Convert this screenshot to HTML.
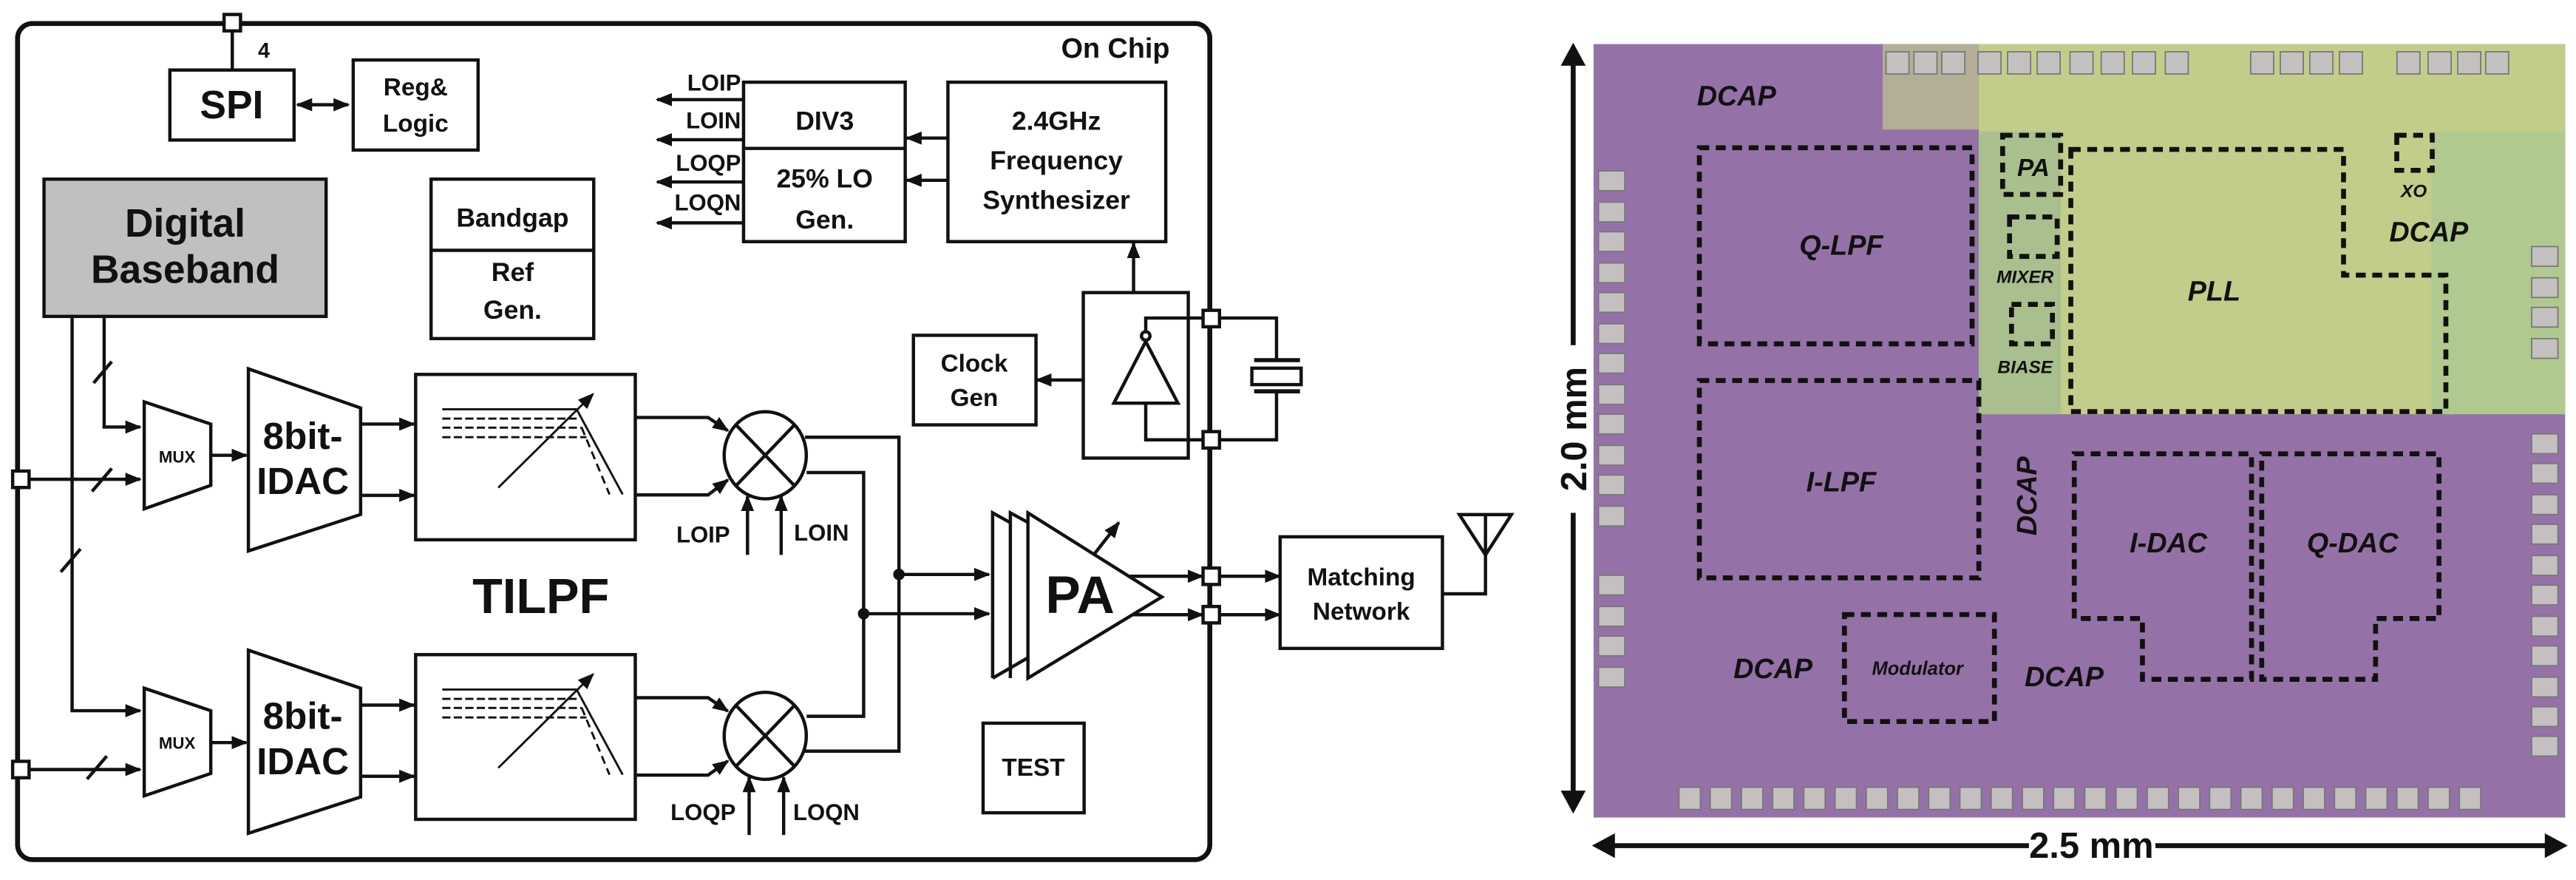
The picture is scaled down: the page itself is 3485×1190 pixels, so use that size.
<!DOCTYPE html>
<html><head><meta charset="utf-8"><style>
html,body{margin:0;padding:0;background:#fff;}
svg{display:block;}
text{font-family:"Liberation Sans Narrow","Liberation Sans",sans-serif;font-weight:bold;fill:#111;}
.it{font-family:"Liberation Sans",sans-serif;font-style:italic;font-weight:bold;}
</style></head><body>
<svg width="3485" height="1190" viewBox="0 0 1568 535.4" xmlns="http://www.w3.org/2000/svg">
<defs>
<marker id="a" markerUnits="userSpaceOnUse" markerWidth="10" markerHeight="8" refX="9" refY="4" orient="auto"><path d="M0,0 L10,4 L0,8 Z" fill="#111"/></marker>
<marker id="as" markerUnits="userSpaceOnUse" markerWidth="10" markerHeight="8" refX="1" refY="4" orient="auto"><path d="M10,0 L0,4 L10,8 Z" fill="#111"/></marker>
</defs>
<g fill="none" stroke="#111" stroke-width="2">
<!-- chip border -->
<rect x="10.7" y="14.3" width="725.7" height="508.7" rx="9" stroke-width="3"/>
<!-- top pad -->
<line x1="141.4" y1="19" x2="141.4" y2="42.6"/>
<rect x="136.4" y="8.8" width="10" height="10" fill="#fff"/>
<!-- SPI -->
<rect x="103.4" y="42.6" width="75.6" height="42.6"/>
<line x1="181" y1="63.7" x2="212" y2="63.7" marker-start="url(#as)" marker-end="url(#a)"/>
<rect x="215" y="36.5" width="76" height="54.8"/>
<!-- Digital baseband -->
<rect x="26.8" y="109" width="171.7" height="83.5" fill="#c0c0c0"/>
<!-- Bandgap -->
<rect x="262.4" y="109" width="99" height="97"/>
<line x1="262.4" y1="152.3" x2="361.4" y2="152.3"/>
<!-- DIV3 -->
<rect x="452.6" y="50" width="98.4" height="97"/>
<line x1="452.6" y1="90.3" x2="551" y2="90.3"/>
<line x1="452.6" y1="60.6" x2="400" y2="60.6" marker-end="url(#a)"/>
<line x1="452.6" y1="85" x2="400" y2="85" marker-end="url(#a)"/>
<line x1="452.6" y1="110.7" x2="400" y2="110.7" marker-end="url(#a)"/>
<line x1="452.6" y1="135.6" x2="400" y2="135.6" marker-end="url(#a)"/>
<!-- Synth -->
<rect x="577" y="50" width="132.6" height="97"/>
<line x1="577" y1="84" x2="552" y2="84" marker-end="url(#a)"/>
<line x1="577" y1="109.7" x2="552" y2="109.7" marker-end="url(#a)"/>
<line x1="690" y1="178" x2="690" y2="148" marker-end="url(#a)"/>
<!-- XO -->
<rect x="659.4" y="178" width="63.9" height="100.7"/>
<path d="M678,245.3 L717,245.3 L697.4,207.8 Z"/>
<circle cx="697.4" cy="204.4" r="2.6"/>
<polyline points="697.4,201.8 697.4,193.5 777,193.5 777,219"/>
<polyline points="697.4,245.3 697.4,267.6 777,267.6 777,238"/>
<line x1="763.4" y1="219.1" x2="791.3" y2="219.1" stroke-width="2.5"/>
<rect x="762" y="224" width="30" height="10"/>
<line x1="763.4" y1="238.1" x2="791.3" y2="238.1" stroke-width="2.5"/>
<rect x="732.3" y="188.8" width="10" height="10" fill="#fff"/>
<rect x="732.3" y="262.6" width="10" height="10" fill="#fff"/>
<!-- Clock Gen -->
<rect x="556" y="204" width="74.6" height="54.5"/>
<line x1="659.4" y1="231.2" x2="631" y2="231.2" marker-end="url(#a)"/>
<!-- DB lines -->
<polyline points="43.9,192.5 43.9,432.4 85.3,432.4" marker-end="url(#a)"/>
<polyline points="63.4,192.5 63.4,259.8 85.3,259.8" marker-end="url(#a)"/>
<line x1="57" y1="233" x2="68" y2="220"/>
<line x1="37" y1="348" x2="49" y2="334"/>
<line x1="56" y1="299" x2="68" y2="285"/>
<line x1="53" y1="474" x2="65" y2="460"/>
<line x1="12.7" y1="291.6" x2="85.3" y2="291.6" marker-end="url(#a)"/>
<line x1="12.7" y1="468.2" x2="85.3" y2="468.2" marker-end="url(#a)"/>
<rect x="7.7" y="286.6" width="10" height="10" fill="#fff"/>
<rect x="7.7" y="463.2" width="10" height="10" fill="#fff"/>
<!-- MUX -->
<path d="M87.8,244.5 L128.3,258 L128.3,295.3 L87.8,309.6 Z"/>
<path d="M87.8,418.7 L128.3,432.4 L128.3,470.6 L87.8,484.2 Z"/>
<line x1="128.3" y1="277" x2="150" y2="277" marker-end="url(#a)"/>
<line x1="128.3" y1="451.8" x2="150" y2="451.8" marker-end="url(#a)"/>
<!-- IDAC -->
<path d="M151.2,224.4 L219.5,248.2 L219.5,313 L151.2,335.2 Z"/>
<path d="M151.2,395.6 L219.5,418.7 L219.5,484.9 L151.2,507 Z"/>
<line x1="219.5" y1="258" x2="252" y2="258" marker-end="url(#a)"/>
<line x1="219.5" y1="301.4" x2="252" y2="301.4" marker-end="url(#a)"/>
<line x1="219.5" y1="429" x2="252" y2="429" marker-end="url(#a)"/>
<line x1="219.5" y1="472.3" x2="252" y2="472.3" marker-end="url(#a)"/>
<!-- LPF -->
<rect x="253" y="227.8" width="133.7" height="100.6"/>
<rect x="253" y="398.3" width="133.7" height="100.2"/>
<g id="flt" stroke-width="1.3">
<line x1="269.2" y1="249" x2="351" y2="249"/>
<line x1="269.2" y1="254.7" x2="351" y2="254.7" stroke-dasharray="5,2"/>
<line x1="269.2" y1="260.2" x2="354" y2="260.2" stroke-dasharray="5,2"/>
<line x1="269.2" y1="266" x2="357" y2="266" stroke-dasharray="5,2"/>
<line x1="351" y1="249" x2="379" y2="300.8"/>
<line x1="354" y1="260" x2="371" y2="300.8" stroke-dasharray="5,3"/>
<line x1="303.3" y1="296.7" x2="361" y2="239.7" marker-end="url(#a)"/>
</g>
<use href="#flt" transform="translate(0,170.5)"/>
<!-- LPF to mixers -->
<polyline points="386.7,254 431,254 443,262" marker-end="url(#a)"/>
<polyline points="386.7,301.1 431,301.1 443,292" marker-end="url(#a)"/>
<polyline points="386.7,424.5 431,424.5 443,432.7" marker-end="url(#a)"/>
<polyline points="386.7,471.6 431,471.6 443,463" marker-end="url(#a)"/>
<!-- Mixers -->
<ellipse cx="465.8" cy="277" rx="25" ry="26.5"/>
<line x1="448" y1="258.5" x2="483.6" y2="295.5"/><line x1="483.6" y1="258.5" x2="448" y2="295.5"/>
<ellipse cx="465.8" cy="447.7" rx="25" ry="26.5"/>
<line x1="448" y1="429.2" x2="483.6" y2="466.2"/><line x1="483.6" y1="429.2" x2="448" y2="466.2"/>
<line x1="455" y1="337.6" x2="455" y2="302" marker-end="url(#a)"/>
<line x1="475.5" y1="337.6" x2="475.5" y2="302" marker-end="url(#a)"/>
<line x1="456" y1="508" x2="456" y2="473" marker-end="url(#a)"/>
<line x1="477" y1="508" x2="477" y2="473" marker-end="url(#a)"/>
<!-- mixer outputs -->
<polyline points="490,266 547.2,266 547.2,457 490,457"/>
<polyline points="491,287.5 525.7,287.5 525.7,435.8 491,435.8"/>
<circle cx="547.2" cy="349.5" r="2.5" fill="#111"/>
<circle cx="525.7" cy="373.4" r="2.5" fill="#111"/>
<line x1="547.2" y1="349.5" x2="602" y2="349.5" marker-end="url(#a)"/>
<line x1="525.7" y1="373.4" x2="602" y2="373.4" marker-end="url(#a)"/>
<!-- PA -->
<path d="M604.2,412.6 L604.2,312 L615,318"/>
<path d="M615,412.6 L615,312 L626,318"/>
<path d="M604.2,412.6 L626,400"/>
<path d="M625.7,312 L707.2,363.2 L625.7,412.6 Z" fill="#fff"/>
<line x1="665.7" y1="337.6" x2="681" y2="318" marker-end="url(#a)"/>
<line x1="688" y1="350.6" x2="732" y2="350.6" marker-end="url(#a)"/>
<line x1="690" y1="374" x2="732" y2="374" marker-end="url(#a)"/>
<rect x="732.3" y="345.6" width="10" height="10" fill="#fff"/>
<rect x="732.3" y="369" width="10" height="10" fill="#fff"/>
<line x1="742.3" y1="350.6" x2="779" y2="350.6" marker-end="url(#a)"/>
<line x1="742.3" y1="374" x2="779" y2="374" marker-end="url(#a)"/>
<rect x="779.2" y="326.6" width="98.8" height="67.9"/>
<polyline points="878,361.3 904.2,361.3 904.2,313.1"/>
<path d="M888.3,313.1 L920,313.1 L904.2,337.6 Z"/>
<!-- TEST -->
<rect x="598.4" y="440" width="61.5" height="54.5"/>
</g>
<!-- texts left -->
<text x="157" y="35" font-size="13">4</text>
<text x="141" y="72" font-size="24" text-anchor="middle">SPI</text>
<text x="253" y="58" font-size="15" text-anchor="middle" font-weight="normal">Reg&amp;</text>
<text x="253" y="80" font-size="15" text-anchor="middle" font-weight="normal">Logic</text>
<text x="712" y="35" font-size="17" text-anchor="end">On Chip</text>
<text x="112.7" y="144" font-size="24" text-anchor="middle">Digital</text>
<text x="112.7" y="172" font-size="24" text-anchor="middle">Baseband</text>
<text x="312" y="138" font-size="16" text-anchor="middle">Bandgap</text>
<text x="312" y="171" font-size="16" text-anchor="middle">Ref</text>
<text x="312" y="194" font-size="16" text-anchor="middle">Gen.</text>
<text x="502" y="79" font-size="16" text-anchor="middle">DIV3</text>
<text x="502" y="114" font-size="16" text-anchor="middle">25% LO</text>
<text x="502" y="139" font-size="16" text-anchor="middle">Gen.</text>
<text x="451" y="55" font-size="14" text-anchor="end" font-weight="normal">LOIP</text>
<text x="451" y="78" font-size="14" text-anchor="end" font-weight="normal">LOIN</text>
<text x="451" y="104" font-size="14" text-anchor="end" font-weight="normal">LOQP</text>
<text x="451" y="128" font-size="14" text-anchor="end" font-weight="normal">LOQN</text>
<text x="643" y="79" font-size="16" text-anchor="middle">2.4GHz</text>
<text x="643" y="103" font-size="16" text-anchor="middle">Frequency</text>
<text x="643" y="127" font-size="16" text-anchor="middle">Synthesizer</text>
<text x="593" y="226" font-size="15" text-anchor="middle" font-weight="normal">Clock</text>
<text x="593" y="247" font-size="15" text-anchor="middle" font-weight="normal">Gen</text>
<text x="107.8" y="281.5" font-size="10" text-anchor="middle" font-weight="normal">MUX</text>
<text x="107.8" y="455.5" font-size="10" text-anchor="middle" font-weight="normal">MUX</text>
<text x="184.3" y="273" font-size="23" text-anchor="middle">8bit-</text>
<text x="184.3" y="300.5" font-size="23" text-anchor="middle">IDAC</text>
<text x="184.3" y="443.5" font-size="23" text-anchor="middle">8bit-</text>
<text x="184.3" y="471" font-size="23" text-anchor="middle">IDAC</text>
<text x="329.2" y="373" font-size="30" text-anchor="middle">TILPF</text>
<text x="428" y="330" font-size="14" text-anchor="middle" font-weight="normal">LOIP</text>
<text x="500" y="329" font-size="14" text-anchor="middle" font-weight="normal">LOIN</text>
<text x="428" y="499" font-size="14" text-anchor="middle" font-weight="normal">LOQP</text>
<text x="503" y="499" font-size="14" text-anchor="middle" font-weight="normal">LOQN</text>
<text x="657.4" y="373" font-size="32" text-anchor="middle">PA</text>
<text x="828.6" y="356" font-size="15" text-anchor="middle" font-weight="normal">Matching</text>
<text x="828.6" y="377" font-size="15" text-anchor="middle" font-weight="normal">Network</text>
<text x="629" y="472" font-size="15" text-anchor="middle" font-weight="normal">TEST</text>

<!-- die photo -->
<rect x="970" y="26.8" width="591.4" height="470.6" fill="#9472a8"/>
<rect x="1204.5" y="26.8" width="356.9" height="225.2" fill="#c3cd8a"/>
<rect x="1146" y="26.8" width="58.5" height="52" fill="#b4ae96"/>
<rect x="1480" y="80" width="81.4" height="172" fill="#a8c890" opacity="0.7"/>
<rect x="1204.5" y="80" width="50" height="172" fill="#a9c08e"/>
<g fill="#c4c0c0" stroke="#777" stroke-width="0.8">
<g id="tp"><rect x="1148" y="31.5" width="14" height="13.5"/></g>
<use href="#tp" x="17"/><use href="#tp" x="34"/><use href="#tp" x="56"/><use href="#tp" x="74"/><use href="#tp" x="92"/><use href="#tp" x="112"/><use href="#tp" x="131"/><use href="#tp" x="150"/><use href="#tp" x="170"/><use href="#tp" x="222"/><use href="#tp" x="240"/><use href="#tp" x="258"/><use href="#tp" x="276"/><use href="#tp" x="311"/><use href="#tp" x="330"/><use href="#tp" x="348"/><use href="#tp" x="365"/>
<g id="lp"><rect x="973" y="104" width="16" height="12"/></g>
<use href="#lp" y="19"/><use href="#lp" y="37"/><use href="#lp" y="56"/><use href="#lp" y="74"/><use href="#lp" y="93"/><use href="#lp" y="111"/><use href="#lp" y="130"/><use href="#lp" y="148"/><use href="#lp" y="167"/><use href="#lp" y="185"/><use href="#lp" y="204"/><use href="#lp" y="246"/><use href="#lp" y="265"/><use href="#lp" y="283"/><use href="#lp" y="302"/>
<g id="rp"><rect x="1541" y="150" width="16" height="12"/></g>
<use href="#rp" y="19"/><use href="#rp" y="37"/><use href="#rp" y="56"/><use href="#rp" y="114"/><use href="#rp" y="132"/><use href="#rp" y="151"/><use href="#rp" y="169"/><use href="#rp" y="188"/><use href="#rp" y="206"/><use href="#rp" y="225"/><use href="#rp" y="243"/><use href="#rp" y="262"/><use href="#rp" y="280"/><use href="#rp" y="298"/>
<g id="bp"><rect x="1022" y="479" width="13" height="13.5"/></g>
<use href="#bp" x="19"/><use href="#bp" x="38"/><use href="#bp" x="57"/><use href="#bp" x="76"/><use href="#bp" x="95"/><use href="#bp" x="114"/><use href="#bp" x="133"/><use href="#bp" x="152"/><use href="#bp" x="171"/><use href="#bp" x="190"/><use href="#bp" x="209"/><use href="#bp" x="228"/><use href="#bp" x="247"/><use href="#bp" x="266"/><use href="#bp" x="285"/><use href="#bp" x="304"/><use href="#bp" x="323"/><use href="#bp" x="342"/><use href="#bp" x="361"/><use href="#bp" x="380"/><use href="#bp" x="399"/><use href="#bp" x="418"/><use href="#bp" x="437"/><use href="#bp" x="456"/><use href="#bp" x="475"/>
</g>
<g fill="none" stroke="#111" stroke-width="3" stroke-dasharray="6,4">
<rect x="1034.4" y="89.9" width="166" height="119.3"/>
<rect x="1034.4" y="231.5" width="170.1" height="120.1"/>
<rect x="1219" y="82.3" width="35.3" height="36"/>
<rect x="1223.2" y="132" width="29" height="24"/>
<rect x="1224.4" y="185.2" width="24.9" height="24"/>
<polygon points="1260.5,90.9 1426.5,90.9 1426.5,167.4 1488.8,167.4 1488.8,250.4 1260.5,250.4"/>
<rect x="1458.9" y="82.3" width="21.6" height="21.3"/>
<polygon points="1262.6,276.1 1370.5,276.1 1370.5,413.3 1304.1,413.3 1304.1,376.3 1262.6,376.3"/>
<polygon points="1376.7,276.1 1484.6,276.1 1484.6,376.3 1446,376.3 1446,413.3 1376.7,413.3"/>
<rect x="1122.7" y="373.9" width="91.3" height="65.1"/>
</g>
<g class="it">
<text class="it" x="1057" y="64" font-size="17" text-anchor="middle">DCAP</text>
<text class="it" x="1120.7" y="155" font-size="17" text-anchor="middle">Q-LPF</text>
<text class="it" x="1237.7" y="107" font-size="15" text-anchor="middle">PA</text>
<text class="it" x="1232.7" y="172" font-size="11" text-anchor="middle">MIXER</text>
<text class="it" x="1232.7" y="227" font-size="11" text-anchor="middle">BIASE</text>
<text class="it" x="1347.7" y="183" font-size="17" text-anchor="middle">PLL</text>
<text class="it" x="1469.3" y="120" font-size="11" text-anchor="middle">XO</text>
<text class="it" x="1478.4" y="147" font-size="17" text-anchor="middle">DCAP</text>
<text class="it" x="1120.7" y="299" font-size="17" text-anchor="middle">I-LPF</text>
<text class="it" x="0" y="0" font-size="17" text-anchor="middle" transform="translate(1239.5,301.8) rotate(-90)">DCAP</text>
<text class="it" x="1319.9" y="336" font-size="17" text-anchor="middle">I-DAC</text>
<text class="it" x="1432" y="336" font-size="17" text-anchor="middle">Q-DAC</text>
<text class="it" x="1079.2" y="412.5" font-size="17" text-anchor="middle">DCAP</text>
<text class="it" x="1167.2" y="410.5" font-size="11.5" text-anchor="middle">Modulator</text>
<text class="it" x="1256.4" y="417.5" font-size="17" text-anchor="middle">DCAP</text>
</g>
<!-- dimensions -->
<g stroke="#111" stroke-width="3">
<line x1="957.6" y1="36" x2="957.6" y2="210"/>
<line x1="957.6" y1="312" x2="957.6" y2="486"/>
<line x1="980" y1="514.5" x2="1235" y2="514.5"/>
<line x1="1312" y1="514.5" x2="1552" y2="514.5"/>
</g>
<path d="M957.6,26 L950,40 L965.2,40 Z" fill="#111"/>
<path d="M957.6,495 L950,481 L965.2,481 Z" fill="#111"/>
<path d="M969,514.5 L983,507 L983,522 Z" fill="#111"/>
<path d="M1563,514.5 L1549,507 L1549,522 Z" fill="#111"/>
<text x="0" y="0" font-size="22" text-anchor="middle" font-family="Liberation Sans" transform="translate(965.5,261) rotate(-90)" style="font-family:'Liberation Sans',sans-serif">2.0 mm</text>
<text x="1273" y="522" font-size="22" text-anchor="middle" style="font-family:'Liberation Sans',sans-serif">2.5 mm</text>
</svg>
</body></html>
